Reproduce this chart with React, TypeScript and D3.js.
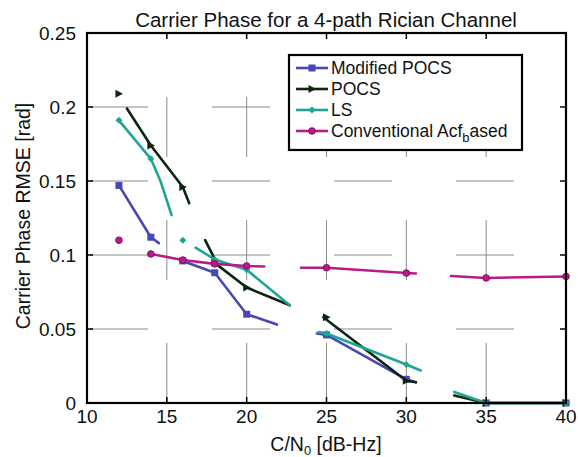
import * as d3 from "d3";
import React from "react";

// C/N0 values where the markers sit
const cn0 = [12, 14, 16, 18, 20, 25, 30, 35, 40];

// marker values
const modPocsVals = [0.147, 0.112, 0.096, 0.088, 0.06, 0.046, 0.016, 0, 0];
const pocsVals = [0.209, 0.174, 0.146, 0.095, 0.078, 0.058, 0.015, 0, 0];
const lsVals = [0.191, 0.165, 0.11, 0.097, 0.09, 0.047, 0.026, 0, 0];
const acfVals = [0.11, 0.1007, 0.0966, 0.094, 0.0926, 0.0914, 0.0878, 0.0845, 0.0855];

// visible (broken) line pieces, as [C/N0, rmse]
const modPocsTrace: [number, number][][] = [
  [[12, 0.147], [14, 0.112], [14.5, 0.108]],
  [[16, 0.096], [18, 0.088], [20, 0.06], [21.9, 0.053]],
  [[24.4, 0.047], [25, 0.046], [30, 0.016], [30.6, 0.014]],
  [[35, 0], [40, 0]],
];
const pocsTrace: [number, number][][] = [
  [[12.5, 0.199], [14, 0.174], [16, 0.146], [16.4, 0.135]],
  [[17.4, 0.11], [18.2, 0.093], [20, 0.078], [22.7, 0.066]],
  [[24.8, 0.058], [30, 0.015], [30.6, 0.014]],
  [[33, 0.005], [35, 0], [40, 0]],
];
const lsTrace: [number, number][][] = [
  [[12, 0.191], [14, 0.165], [14.6, 0.15], [15.3, 0.127]],
  [[16.8, 0.105], [18, 0.097], [20, 0.09], [22.7, 0.066]],
  [[24.5, 0.048], [25, 0.047], [30, 0.026], [30.9, 0.022]],
  [[33, 0.0075], [35, 0], [40, 0]],
];
const acfTrace: [number, number][][] = [
  [[14, 0.1007], [16, 0.0966], [18, 0.094], [20, 0.0926], [21.1, 0.0922]],
  [[23.4, 0.0914], [25, 0.0914], [30, 0.0878], [30.6, 0.0875]],
  [[32.8, 0.0858], [35, 0.0845], [40, 0.0855]],
];

const xTicks = [10, 15, 20, 25, 30, 35, 40];
const yTicks = [0, 0.05, 0.1, 0.15, 0.2, 0.25];
const yTickLabels = ["0", "0.05", "0.1", "0.15", "0.2", "0.25"];

const series = [
  { name: "Modified POCS", vals: modPocsVals, trace: modPocsTrace, color: "#4848b4", marker: "square" },
  { name: "POCS", vals: pocsVals, trace: pocsTrace, color: "#0d240f", marker: "triangle" },
  { name: "LS", vals: lsVals, trace: lsTrace, color: "#1fa596", marker: "diamond" },
  { name: "Conventional Acf", vals: acfVals, trace: acfTrace, color: "#bc1a88", marker: "circle" },
];

const W = 578;
const H = 457;
const font = "'Liberation Sans', Arial, sans-serif";

const x = d3.scaleLinear().domain([10, 40]).range([87, 566]);
const y = d3.scaleLinear().domain([0, 0.25]).range([403, 33]);

const line = d3.line<[number, number]>().x(d => x(d[0])).y(d => y(d[1]));

function Marker({ kind, cx, cy, color }: { kind: string; cx: number; cy: number; color: string }) {
  if (kind === "square") return <rect x={cx - 3.5} y={cy - 3.5} width={7} height={7} fill={color} />;
  if (kind === "triangle") {
    const p = `${cx + 4},${cy} ${cx - 3.5},${cy - 4} ${cx - 3.5},${cy + 4}`;
    return <polygon points={p} fill={color} />;
  }
  if (kind === "diamond") {
    const p = `${cx},${cy - 3.5} ${cx + 3.5},${cy} ${cx},${cy + 3.5} ${cx - 3.5},${cy}`;
    return <polygon points={p} fill={color} />;
  }
  return <circle cx={cx} cy={cy} r={3.3} fill={color} stroke="#7a1060" strokeWidth={1} />;
}

export default function App() {
  const left = x(10), right = x(40), top = y(0.25), bottom = y(0);
  const legendRows = [68, 89, 110, 131];

  return (
    <svg width={W} height={H} style={{ position: "absolute", left: 0, top: 0, background: "#fff" }}
      fontFamily={font}>
      {/* grid, dashed like the scanned figure */}
      {yTicks.slice(1, -1).map(t => (
        <line key={"gy" + t} x1={left + 3} x2={right} y1={y(t)} y2={y(t)}
          stroke="#8a8a8a" strokeWidth={1} strokeDasharray="58 64" />
      ))}
      {xTicks.slice(1, -1).map(t => (
        <line key={"gx" + t} x1={x(t)} x2={x(t)} y1={bottom} y2={top}
          stroke="#8a8a8a" strokeWidth={1} strokeDasharray="60 63" />
      ))}

      {/* series */}
      {series.map(s => (
        <g key={s.name}>
          {s.trace.map((seg, i) => (
            <path key={i} d={line(seg) || ""} fill="none" stroke={s.color} strokeWidth={2.6}
              strokeLinecap="round" strokeLinejoin="round" />
          ))}
          {s.vals.map((v, i) => (
            <Marker key={i} kind={s.marker} cx={x(cn0[i])} cy={y(v)} color={s.color} />
          ))}
        </g>
      ))}

      {/* axes box and ticks */}
      <rect x={left} y={top} width={right - left} height={bottom - top} fill="none" stroke="#000" strokeWidth={2.2} />
      {xTicks.map(t => (
        <g key={"xt" + t}>
          <line x1={x(t)} x2={x(t)} y1={bottom} y2={bottom - 6} stroke="#000" strokeWidth={1.5} />
          <line x1={x(t)} x2={x(t)} y1={top} y2={top + 6} stroke="#000" strokeWidth={1.5} />
          <text x={x(t)} y={423} textAnchor="middle" fontSize={19} fill="#111">{t}</text>
        </g>
      ))}
      {yTicks.map((t, i) => (
        <g key={"yt" + t}>
          <line x1={left} x2={left + 6} y1={y(t)} y2={y(t)} stroke="#000" strokeWidth={1.5} />
          <line x1={right} x2={right - 6} y1={y(t)} y2={y(t)} stroke="#000" strokeWidth={1.5} />
          <text x={76} y={y(t)} dy="0.35em" textAnchor="end" fontSize={19} fill="#111">{yTickLabels[i]}</text>
        </g>
      ))}

      {/* legend */}
      <rect x={289} y={55} width={233} height={95} fill="#fff" stroke="#000" strokeWidth={2.2} />
      {series.map((s, i) => (
        <g key={"lg" + s.name}>
          <line x1={296} x2={328} y1={legendRows[i]} y2={legendRows[i]} stroke={s.color} strokeWidth={2.6} />
          <Marker kind={s.marker} cx={312} cy={legendRows[i]} color={s.color} />
          <text x={331} y={legendRows[i] + 6} fontSize={17.5} fill="#111">
            {s.name}
            {i === 3 && <tspan dy={5} fontSize={13}>b</tspan>}
            {i === 3 && <tspan dy={-5}>ased</tspan>}
          </text>
        </g>
      ))}

      {/* titles */}
      <text x={326} y={27} textAnchor="middle" fontSize={20.5} fill="#111">
        Carrier Phase for a 4-path Rician Channel
      </text>
      <text x={326} y={451} textAnchor="middle" fontSize={19.5} fill="#111">
        C/N<tspan dy={4} fontSize={13}>0</tspan><tspan dy={-4}> [dB-Hz]</tspan>
      </text>
      <text transform="translate(30,216) rotate(-90)" textAnchor="middle" fontSize={19.5} fill="#111">
        Carrier Phase RMSE [rad]
      </text>
    </svg>
  );
}
